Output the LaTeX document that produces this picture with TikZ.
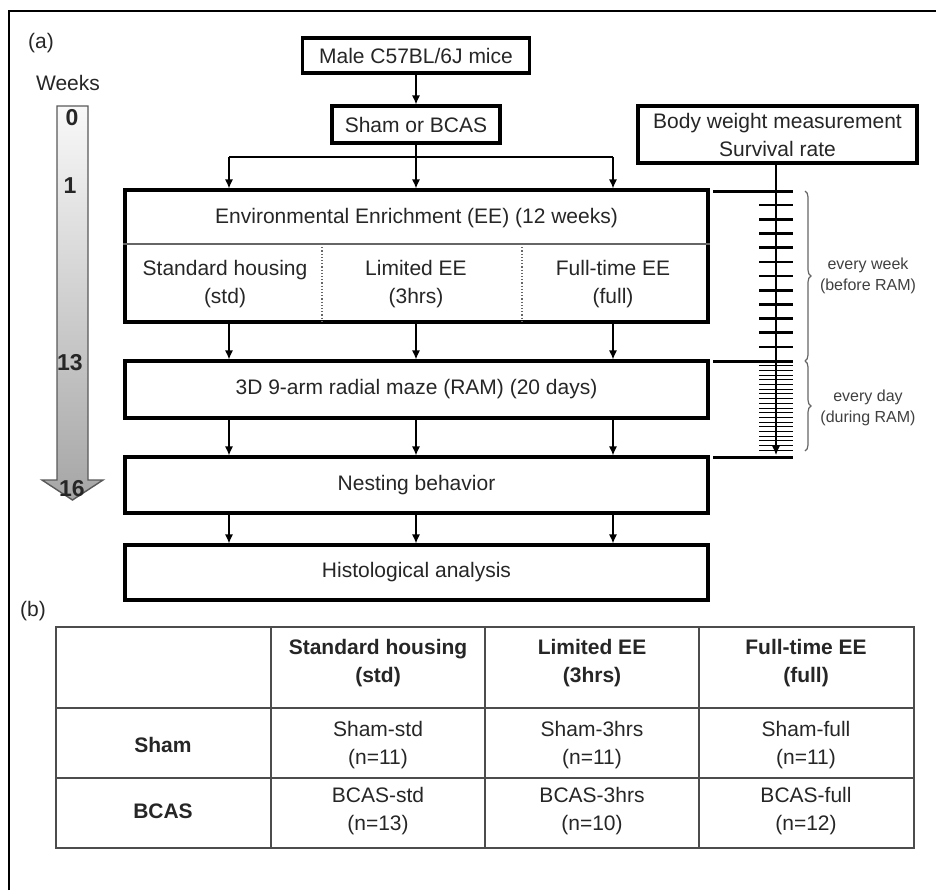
\documentclass[tikz,border=0pt]{standalone}
\usepackage{fontspec}
\setmainfont{Liberation Sans}
\usepackage{tikz}
\usetikzlibrary{arrows.meta,decorations.pathreplacing}

\tikzset{
  thickbox/.style={draw=black, line width=1.6pt, inner sep=0pt, align=center, text=black!85},
  txt/.style={align=center, inner sep=0pt, text=black!85},
  hdr/.style={txt, font=\fontsize{10.5}{14}\selectfont\bfseries},
  wknum/.style={txt, font=\fontsize{11.5}{14}\selectfont\bfseries},
  arr/.style={-{Latex[length=4.5pt,width=4pt]}, line width=0.6pt},
  grid/.style={draw=black!70, line width=0.8pt},
  small/.style={txt, font=\fontsize{8}{10.5}\selectfont, text=black!75},
}

\begin{document}
\begin{tikzpicture}[x=0.5pt,y=-0.5pt,font=\fontsize{10.5}{14}\selectfont]
\useasboundingbox (0,0) rectangle (936,890);

% frame
\draw[line width=1pt] (9,890)--(9,11)--(936,11);
\node[txt] (lbla) at (41,43) {(a)};
\node[txt] (lblb) at (33,611) {(b)};

% weeks
\node[txt] (weeks) at (68,83) {Weeks};
\shadedraw[top color=gray!5, bottom color=gray!70, draw=black!65, line width=0.7pt]
  (57,106)--(88,106)--(88,480)--(103,480)--(72.5,500)--(42,480)--(57,480)--cycle;
\node[wknum] (wk0) at (72,118) {0};
\node[wknum] (wk1) at (70,186) {1};
\node[wknum] (wk13) at (70,363) {13};
\node[wknum] (wk16) at (72,489) {16};

% flow
\coordinate (c1) at (229,0);
\coordinate (c2) at (416,0);
\coordinate (c3) at (613,0);
\coordinate (branch) at (0,157);
\coordinate (div) at (0,244);

\node[thickbox, minimum width=113.5pt, minimum height=17.5pt] (male) at (416,55.5) {Male C57BL/6J mice};
\node[thickbox, minimum width=84pt, minimum height=18.5pt] (sham) at (416,124.5) {Sham or BCAS};
\node[thickbox, minimum width=139.5pt, minimum height=28.5pt] (body) at (777.5,134.5) {Body weight measurement\\Survival rate};

\node[thickbox, minimum width=291.5pt, minimum height=66pt] (ee) at (416.5,256) {};
\node[txt] (eetitle) at (416.5,218) {Environmental Enrichment (EE) (12 weeks)};
\node[txt] (std) at (225,284) {Standard housing\\(std)};
\node[txt] (lim) at (416,284) {Limited EE\\(3hrs)};
\node[txt] (full) at (613,284) {Full-time EE\\(full)};
\draw[black!60, line width=0.6pt] (ee.west |- div) -- (ee.east |- div);
\foreach \x in {322,522}{
	\draw[black!60, densely dotted, line width=0.6pt] (\x,244) -- (\x,322);
}

\node[thickbox, minimum width=291.5pt, minimum height=28.5pt] (ram) at (416.5,389.5) {3D 9-arm radial maze (RAM) (20 days)};
\node[thickbox, minimum width=291.5pt, minimum height=28pt] (nest) at (416.5,485) {Nesting behavior};
\node[thickbox, minimum width=291.5pt, minimum height=27.5pt] (histo) at (416.5,572.5) {Histological analysis};

\draw[arr] (male) -- (sham);
\draw[line width=0.6pt] (sham.south) -- (c2 |- branch);
\draw[line width=0.6pt] (c1 |- branch) -- (c3 |- branch);
\foreach \c in {c1,c2,c3}{
	\draw[arr] (\c |- branch) -- (ee.north -| \c);
	\draw[arr] (ee.south -| \c) -- (ram.north -| \c);
	\draw[arr] (ram.south -| \c) -- (nest.north -| \c);
	\draw[arr] (nest.south -| \c) -- (histo.north -| \c);
}

% measurement ladder
\coordinate (ladend) at (776,455);
\draw[arr] (body.south -| ladend) -- (ladend);
\foreach \y in {191,361,457}{
	\draw[line width=1.5pt] (713,\y) -- (793,\y);
}
\foreach \i in {1,...,11}{
	\draw[line width=1.3pt] (759,{191+\i*14.17}) -- (793,{191+\i*14.17});
}
\foreach \i in {1,...,19}{
	\draw[line width=0.45pt] (759,{361+\i*4.7}) -- (793,{361+\i*4.7});
}
\draw[decorate, decoration={brace, amplitude=3pt}, black!60, line width=0.6pt] (805,191) -- (805,361);
\draw[decorate, decoration={brace, amplitude=3pt}, black!60, line width=0.6pt] (805,361) -- (805,451);
\node[small] (every1) at (868,276) {every week\\(before RAM)};
\node[small] (every2) at (868,408) {every day\\(during RAM)};

% table
\draw[grid] (56,627) rectangle (914,848);
\foreach \y in {708,778}{
	\draw[grid] (56,\y) -- (914,\y);
}
\foreach \x in {271,485,699}{
	\draw[grid] (\x,627) -- (\x,848);
}
\node[hdr] (hstd) at (378,663) {Standard housing\\(std)};
\node[hdr] (hlim) at (592,663) {Limited EE\\(3hrs)};
\node[hdr] (hfull) at (806,663) {Full-time EE\\(full)};
\node[hdr] (rsham) at (163,745) {Sham};
\node[hdr] (rbcas) at (163,811) {BCAS};
\node[txt] (sstd) at (378,745) {Sham-std\\(n=11)};
\node[txt] (slim) at (592,745) {Sham-3hrs\\(n=11)};
\node[txt] (sfull) at (806,745) {Sham-full\\(n=11)};
\node[txt] (bstd) at (378,811) {BCAS-std\\(n=13)};
\node[txt] (blim) at (592,811) {BCAS-3hrs\\(n=10)};
\node[txt] (bfull) at (806,811) {BCAS-full\\(n=12)};

\end{tikzpicture}
\end{document}
